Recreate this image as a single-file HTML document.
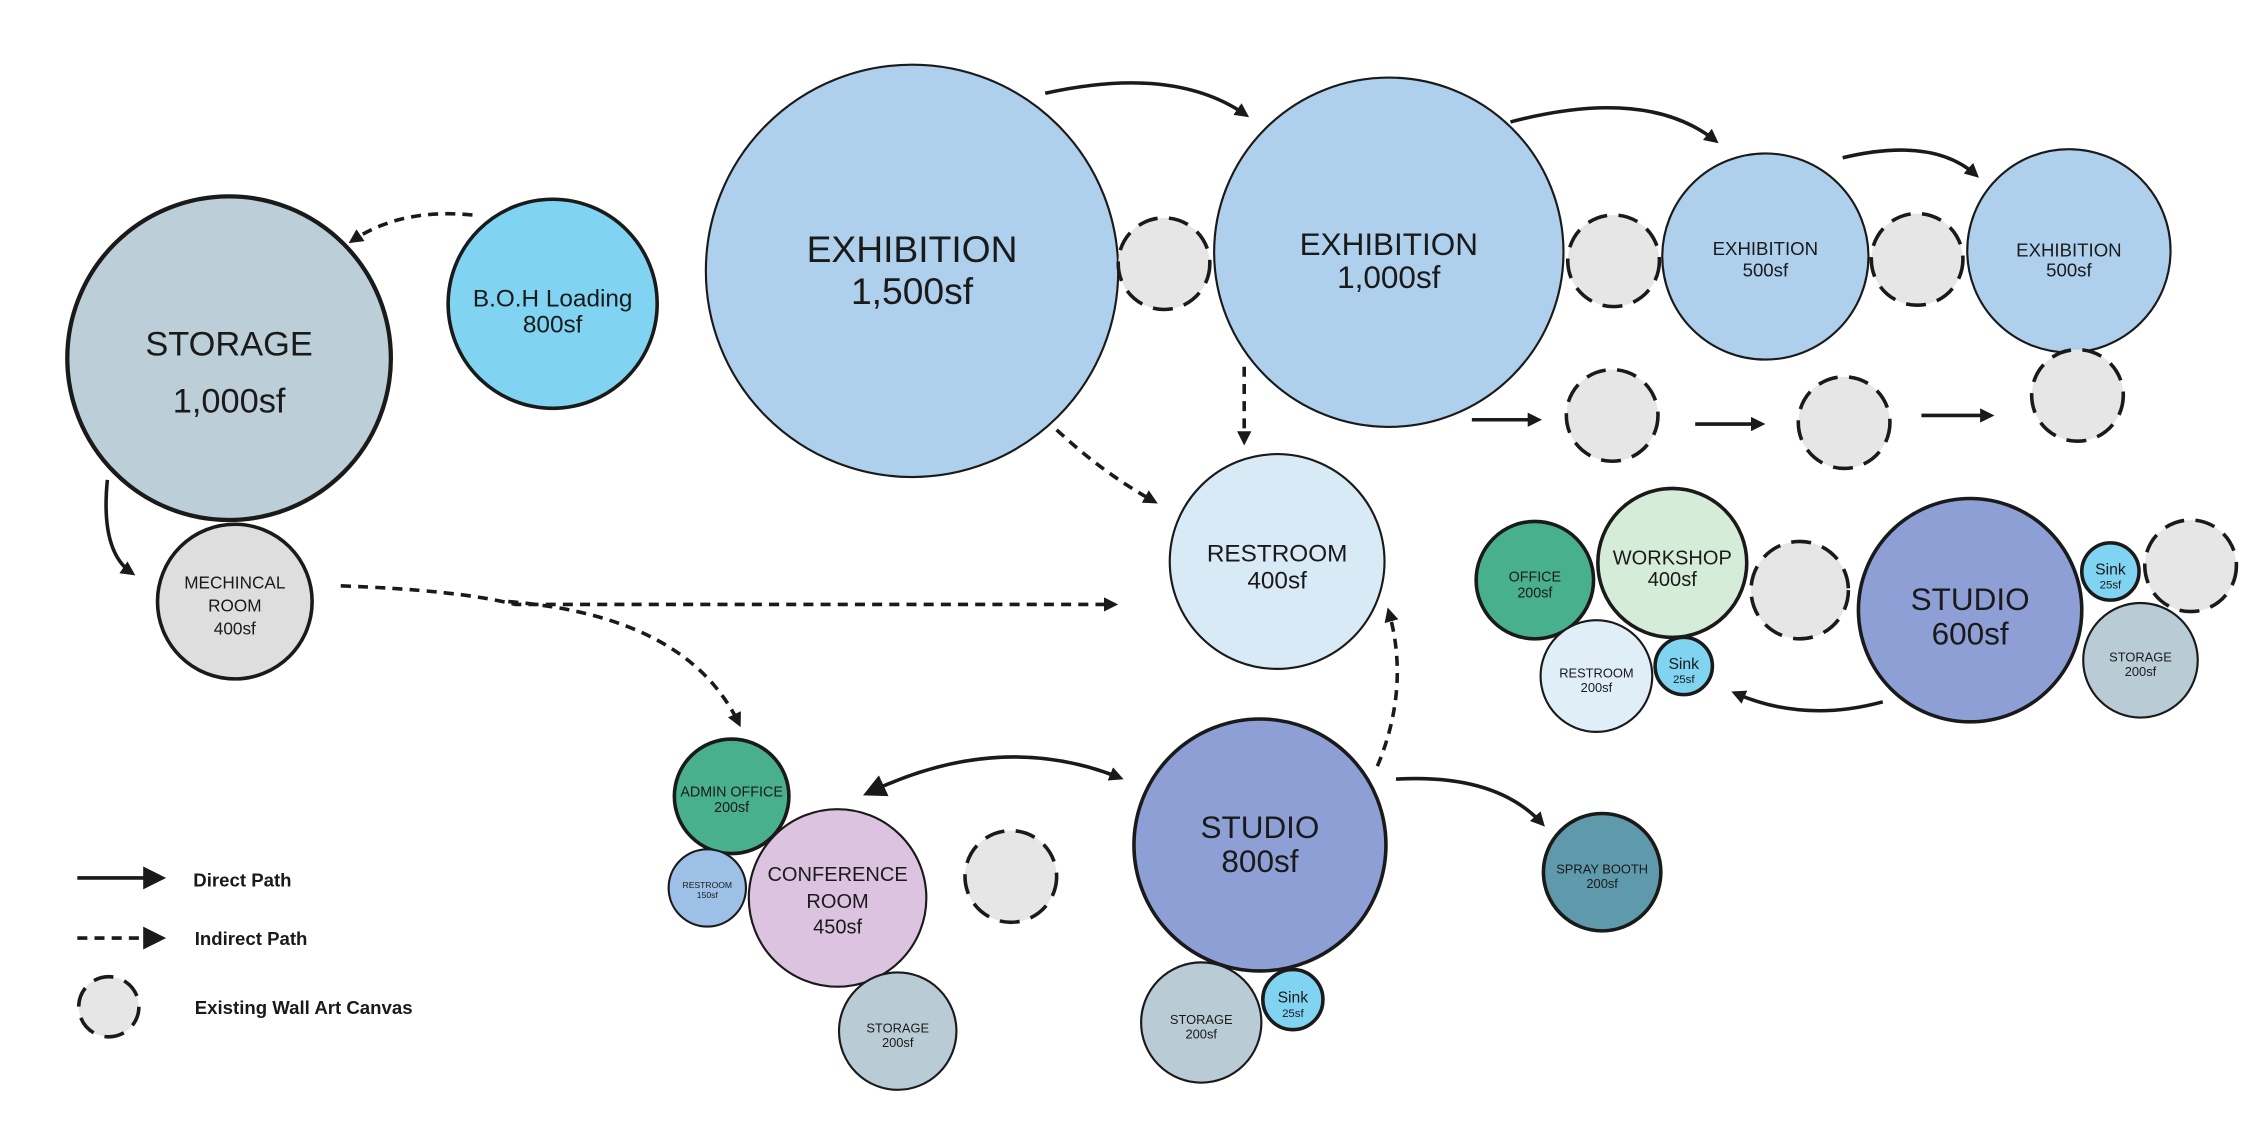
<!DOCTYPE html>
<html><head><meta charset="utf-8"><style>html,body{margin:0;padding:0;background:#fff}svg{display:block}text{font-family:"Liberation Sans",sans-serif;fill:#1a1a1a;text-anchor:middle}</style></head><body>
<svg width="2245" height="1133" viewBox="0 0 1568 791" xmlns="http://www.w3.org/2000/svg">
<defs>
<marker id="a" markerWidth="10" markerHeight="10" refX="7" refY="5" orient="auto" markerUnits="userSpaceOnUse" viewBox="0 0 10 10"><path d="M0,0 L10,5 L0,10 z" fill="#1a1a1a"/></marker>
<marker id="b" markerWidth="16" markerHeight="16" refX="8" refY="8" orient="auto" markerUnits="userSpaceOnUse" viewBox="0 0 16 16"><path d="M0,0 L16,8 L0,16 z" fill="#1a1a1a"/></marker>
<marker id="bs" markerWidth="16" markerHeight="16" refX="8" refY="8" orient="auto-start-reverse" markerUnits="userSpaceOnUse" viewBox="0 0 16 16"><path d="M0,0 L16,8 L0,16 z" fill="#1a1a1a"/></marker>
</defs>
<g stroke="#1a1a1a" stroke-width="2">
<circle cx="160" cy="250" r="113" fill="#bccfd8" stroke-width="3"/>
<circle cx="386" cy="212" r="73" fill="#80d3f1" stroke-width="2.5"/>
<circle cx="164" cy="420" r="54" fill="#dedede" stroke-width="2.5"/>
<circle cx="637" cy="189" r="144" fill="#aed0ec" stroke-width="1.5"/>
<circle cx="970" cy="176" r="122" fill="#aed0ec" stroke-width="1.5"/>
<circle cx="1233" cy="179" r="72" fill="#aed0ec" stroke-width="1.5"/>
<circle cx="1445" cy="175" r="71" fill="#aed0ec" stroke-width="1.5"/>
<circle cx="892" cy="392" r="75" fill="#d8eaf6" stroke-width="1.5"/>
<circle cx="1072" cy="405" r="41" fill="#49b08e" stroke-width="2.5"/>
<circle cx="1168" cy="393" r="52" fill="#d5ecd8" stroke-width="2.5"/>
<circle cx="1376" cy="426" r="78" fill="#8e9fd6" stroke-width="2.5"/>
<circle cx="1495" cy="461" r="40" fill="#b9ccd6" stroke-width="1.5"/>
<circle cx="1474" cy="399" r="20" fill="#80d3f1" stroke-width="2.5"/>
<circle cx="1115" cy="472" r="39" fill="#e0eef8" stroke-width="1.5"/>
<circle cx="1176" cy="465" r="20" fill="#80d3f1" stroke-width="2.5"/>
<circle cx="511" cy="556" r="40" fill="#49b08e" stroke-width="2.5"/>
<circle cx="494" cy="620" r="27" fill="#9cc0e6" stroke-width="1.5"/>
<circle cx="585" cy="627" r="62" fill="#dcc3e0" stroke-width="1.5"/>
<circle cx="627" cy="720" r="41" fill="#b9ccd6" stroke-width="1.5"/>
<circle cx="880" cy="590" r="88" fill="#8e9fd6" stroke-width="2.5"/>
<circle cx="839" cy="714" r="42" fill="#b9ccd6" stroke-width="1.5"/>
<circle cx="903" cy="698" r="21" fill="#80d3f1" stroke-width="2.5"/>
<circle cx="1119" cy="609" r="41" fill="#5e9aab" stroke-width="2.5"/>
</g>
<g fill="#e6e6e6" stroke="#1a1a1a" stroke-width="2.5" stroke-dasharray="14 8">
<circle cx="813" cy="184" r="32"/><circle cx="1127" cy="182" r="32"/><circle cx="1339" cy="181" r="32"/>
<circle cx="1126" cy="290" r="32"/><circle cx="1288" cy="295" r="32"/><circle cx="1451" cy="276" r="32"/>
<circle cx="1257" cy="412" r="34"/><circle cx="1530" cy="395" r="32"/><circle cx="706" cy="612" r="32"/>
<circle cx="76" cy="703" r="21"/>
</g>
<g fill="none" stroke="#1a1a1a" stroke-width="2.5">
<path d="M730,65 Q820,45 870,80" marker-end="url(#a)"/>
<path d="M1055,85 Q1150,60 1198,98" marker-end="url(#a)"/>
<path d="M1287,110 Q1350,95 1380,122" marker-end="url(#a)"/>
<path d="M1028,293 L1074,293" marker-end="url(#a)"/>
<path d="M1184,296 L1230,296" marker-end="url(#a)"/>
<path d="M1342,290 L1390,290" marker-end="url(#a)"/>
<path d="M1315,490 Q1260,505 1212,484" marker-end="url(#a)"/>
<path d="M75,335 Q70,385 92,400" marker-end="url(#a)"/>
<path d="M975,544 Q1045,540 1077,575" marker-end="url(#a)"/>
<path d="M610,552 Q700,510 782,543" marker-start="url(#bs)" marker-end="url(#a)"/>
<path d="M54,613 L108,613" marker-end="url(#b)"/>
</g>
<g fill="none" stroke="#1a1a1a" stroke-width="2.5" stroke-dasharray="7 5">
<path d="M330,150 Q280,145 246,168" marker-end="url(#a)"/>
<path d="M238,409 Q320,412 360,422 L778,422" marker-end="url(#a)"/>
<path d="M355,420 Q480,430 516,505" marker-end="url(#a)"/>
<path d="M738,300 Q770,330 806,350" marker-end="url(#a)"/>
<path d="M869,256 L869,308" marker-end="url(#a)"/>
<path d="M962,535 Q985,480 970,427" marker-end="url(#a)"/>
<path d="M54,655 L108,655" marker-end="url(#b)"/>
</g>
<text x="637" y="183" font-size="26">EXHIBITION</text><text x="637" y="212" font-size="26">1,500sf</text>
<text x="970" y="178" font-size="22">EXHIBITION</text><text x="970" y="201" font-size="22">1,000sf</text>
<text x="1233" y="178" font-size="13">EXHIBITION</text><text x="1233" y="193" font-size="13">500sf</text>
<text x="1445" y="179" font-size="13">EXHIBITION</text><text x="1445" y="193" font-size="13">500sf</text>
<text x="160" y="248" font-size="24">STORAGE</text><text x="160" y="288" font-size="24">1,000sf</text>
<text x="386" y="214" font-size="17">B.O.H Loading</text><text x="386" y="232" font-size="17">800sf</text>
<text x="164" y="411" font-size="12">MECHINCAL</text><text x="164" y="427" font-size="12">ROOM</text><text x="164" y="443" font-size="12">400sf</text>
<text x="892" y="392" font-size="17">RESTROOM</text><text x="892" y="411" font-size="17">400sf</text>
<text x="1072" y="406" font-size="10">OFFICE</text><text x="1072" y="417" font-size="10">200sf</text>
<text x="1168" y="394" font-size="14">WORKSHOP</text><text x="1168" y="409" font-size="14">400sf</text>
<text x="1376" y="426" font-size="22">STUDIO</text><text x="1376" y="450" font-size="22">600sf</text>
<text x="1474" y="401" font-size="11">Sink</text><text x="1474" y="411" font-size="8">25sf</text>
<text x="1495" y="462" font-size="9">STORAGE</text><text x="1495" y="472" font-size="9">200sf</text>
<text x="1115" y="473" font-size="9">RESTROOM</text><text x="1115" y="483" font-size="9">200sf</text>
<text x="1176" y="467" font-size="11">Sink</text><text x="1176" y="477" font-size="8">25sf</text>
<text x="511" y="556" font-size="10">ADMIN OFFICE</text><text x="511" y="567" font-size="10">200sf</text>
<text x="494" y="620" font-size="6">RESTROOM</text><text x="494" y="627" font-size="6">150sf</text>
<text x="585" y="615" font-size="14">CONFERENCE</text><text x="585" y="634" font-size="14">ROOM</text><text x="585" y="652" font-size="14">450sf</text>
<text x="627" y="721" font-size="9">STORAGE</text><text x="627" y="731" font-size="9">200sf</text>
<text x="880" y="585" font-size="22">STUDIO</text><text x="880" y="609" font-size="22">800sf</text>
<text x="839" y="715" font-size="9">STORAGE</text><text x="839" y="725" font-size="9">200sf</text>
<text x="903" y="700" font-size="11">Sink</text><text x="903" y="710" font-size="8">25sf</text>
<text x="1119" y="610" font-size="9">SPRAY BOOTH</text><text x="1119" y="620" font-size="9">200sf</text>
<g style="text-anchor:start" font-size="13" font-weight="bold">
<text x="135" y="619" style="text-anchor:start">Direct Path</text>
<text x="136" y="660" style="text-anchor:start">Indirect Path</text>
<text x="136" y="708" style="text-anchor:start">Existing Wall Art Canvas</text>
</g>
</svg>
</body></html>
